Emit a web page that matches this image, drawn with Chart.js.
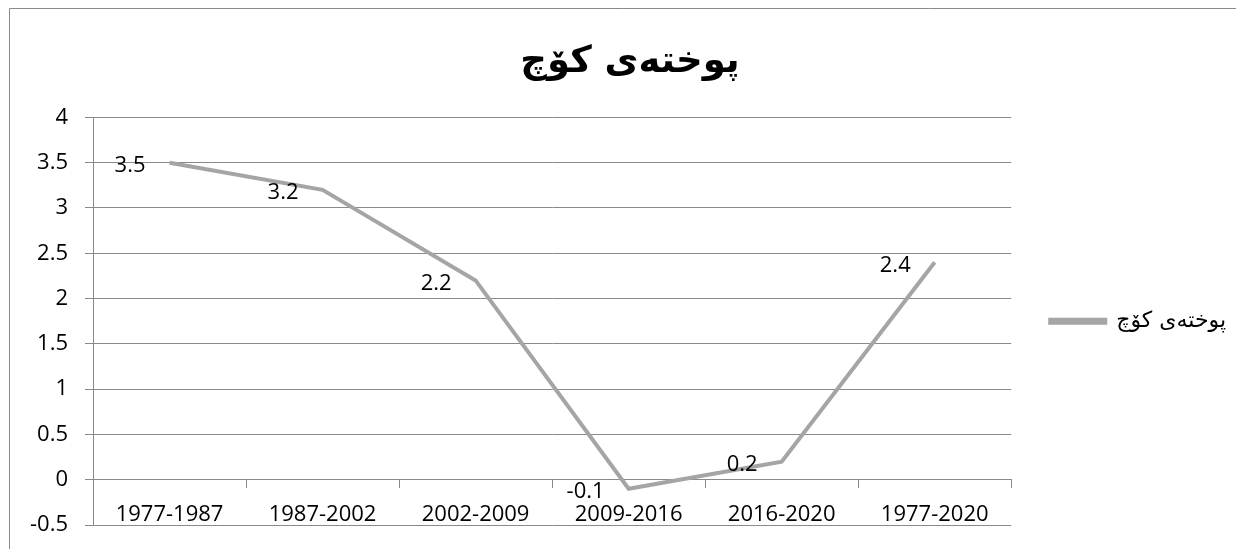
<!DOCTYPE html>
<html>
<head>
<meta charset="utf-8">
<style>
  html, body { margin: 0; padding: 0; background: #fff; }
  #wrap { position: relative; width: 1236px; height: 549px; }
</style>
<script src="https://cdn.jsdelivr.net/npm/chart.js@4/dist/chart.umd.min.js"></script>
</head>
<body>
<div id="wrap"><canvas id="myChart"></canvas></div>
<script>
/* データ */
const categories = ['1977-1987', '1987-2002', '2002-2009', '2009-2016', '2016-2020', '1977-2020'];
const values = [3.5, 3.2, 2.2, -0.1, 0.2, 2.4];
const seriesName = 'پوختەی کۆچ';
const titleText = 'پوختەی کۆچ';
const yTicks = [-0.5, 0, 0.5, 1, 1.5, 2, 2.5, 3, 3.5, 4];

const gridGray = '#8a8a8a';
const lineGray = '#a5a5a5';
const latin = "'Open Sans', sans-serif";

/* chart border (Excel style frame) */
const framePlugin = {
  id: 'frame',
  beforeDraw(chart) {
    const c = chart.ctx;
    c.save();
    c.strokeStyle = gridGray;
    c.lineWidth = 1;
    c.beginPath();
    c.moveTo(9.5, chart.height);
    c.lineTo(9.5, 8.5);
    c.lineTo(chart.width, 8.5);
    c.stroke();
    c.restore();
  }
};

/* data labels, to the left of each point */
const labelPlugin = {
  id: 'pointLabels',
  afterDatasetsDraw(chart) {
    const c = chart.ctx;
    const meta = chart.getDatasetMeta(0);
    c.save();
    c.font = "22px " + latin;
    c.fillStyle = '#000';
    c.textAlign = 'right';
    c.textBaseline = 'middle';
    meta.data.forEach((pt, i) => {
      c.fillText(String(values[i]), pt.x - 24, pt.y + 3);
    });
    c.restore();
  }
};

let ctx = document.getElementById('myChart').getContext('2d');
let myChart = new Chart(ctx, {
  type: 'line',
  data: {
    labels: categories,
    datasets: [{
      label: seriesName,
      data: values,
      borderColor: lineGray,
      backgroundColor: lineGray,
      borderWidth: 4,
      pointRadius: 0,
      pointHoverRadius: 0,
      tension: 0
    }]
  },
  options: {
    responsive: true,
    maintainAspectRatio: false,
    animation: false,
    layout: {
      padding: { left: 24, right: 0, top: 0, bottom: 24 }
    },
    plugins: {
      title: {
        display: true,
        text: titleText,
        color: '#000',
        font: { family: "'DejaVu Sans'", size: 37, weight: 'bold' },
        padding: { top: 40, bottom: 33 }
      },
      legend: {
        position: 'right',
        fullSize: false,
        labels: {
          boxWidth: 55,
          boxHeight: 3,
          padding: 39,
          color: '#000',
          font: { family: "'DejaVu Sans'", size: 22 }
        }
      },
      tooltip: { enabled: false }
    },
    scales: {
      x: {
        position: { y: 0 },
        offset: true,
        grid: {
          offset: true,
          drawOnChartArea: false,
          drawTicks: true,
          tickLength: 8,
          color: gridGray
        },
        border: { color: gridGray },
        ticks: {
          color: '#000',
          padding: 14,
          maxRotation: 0,
          autoSkip: false,
          font: { family: latin, size: 22 }
        }
      },
      y: {
        min: -0.5,
        max: 4,
        afterFit(scale) {
          scale.width = 69;
          scale.paddingTop = 0;
          scale.paddingBottom = 0;
        },
        afterBuildTicks(scale) { scale.ticks = yTicks.map(v => ({ value: v })); },
        grid: {
          color: gridGray,
          tickLength: 8
        },
        border: { color: gridGray },
        ticks: {
          color: '#000',
          padding: 17,
          font: { family: latin, size: 22 },
          callback: v => String(v)
        }
      }
    }
  },
  plugins: [framePlugin, labelPlugin]
});
</script>
</body>
</html>
